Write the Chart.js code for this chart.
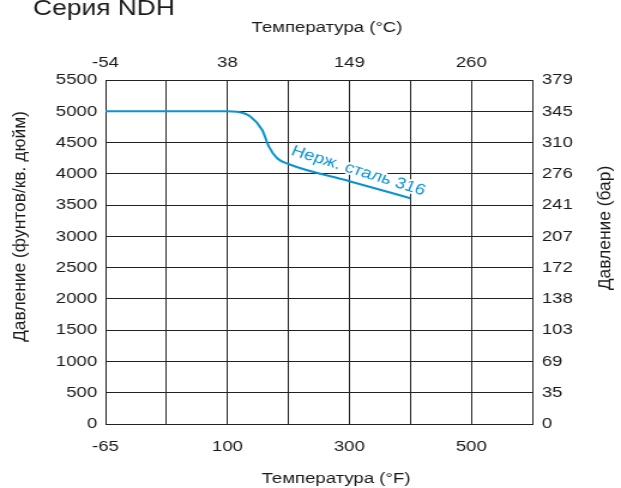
<!DOCTYPE html>
<html>
<head>
<meta charset="utf-8">
<script src="https://cdn.jsdelivr.net/npm/chart.js@4"></script>
<style>
  html, body { margin: 0; padding: 0; background: #fff; overflow: hidden; }
  #wrap { width: 518px; height: 488px; transform: scaleX(1.19884); transform-origin: 0 0; }
  #c { display: block; }
</style>
</head>
<body>
<div id="wrap"><canvas id="c" width="518" height="488"></canvas></div>
<script>
// ---- data ----
const chartTitle = 'Серия NDH';
const bottomTitle = 'Температура (°F)';
const topTitle = 'Температура (°C)';
const leftTitle = 'Давление (фунтов/кв. дюйм)';
const rightTitle = 'Давление (бар)';
const seriesLabel = 'Нерж. сталь 316';

// tick labels at each grid position (grid index 0..7)
const bottomLabels = ['-65', '', '100', '', '300', '', '500', ''];
const topLabels = ['-54', '', '38', '', '149', '', '260', ''];
const barLabels = ['0', '35', '69', '103', '138', '172', '207', '241', '276', '310', '345', '379'];

// curve: x in grid positions of the temperature axis, y in psi
const curveX = [0, 2.0, 2.16, 2.38, 2.57, 2.68, 2.815, 3.0, 4.0, 5.0];
const curvePsi = [5000, 5000, 4994, 4914, 4701, 4434, 4249, 4157, 3882, 3610];

// ---- rendering ----
const SX = 621 / 518;           // horizontal stretch of the reference picture
const FONT = 'Liberation Sans, Arial, sans-serif';
const tickFont = { family: FONT, size: 15.5 };
const ink = '#1a1a1a';
const gridInk = '#222';
const blue = '#0a93d3';

const textPlugin = {
  id: 'texts',
  afterDatasetsDraw(chart) {
    const ctx = chart.ctx;
    const xs = chart.scales.x, ys = chart.scales.y;
    const n = curveX.length;
    const x0 = xs.getPixelForValue(curveX[n - 3]), y0 = ys.getPixelForValue(curvePsi[n - 3]);
    const x1 = xs.getPixelForValue(curveX[n - 1]), y1 = ys.getPixelForValue(curvePsi[n - 1]);
    const ang = Math.atan2(y1 - y0, x1 - x0) + 0.03;
    ctx.save();
    ctx.translate(xs.getPixelForValue(3.03), ys.getPixelForValue(4310));
    ctx.rotate(ang);
    ctx.font = '15.5px ' + FONT;
    ctx.textAlign = 'left';
    ctx.textBaseline = 'alphabetic';
    ctx.lineWidth = 4;
    ctx.strokeStyle = '#fff';
    ctx.lineJoin = 'round';
    ctx.strokeText(seriesLabel, 0, 0);
    ctx.fillStyle = blue;
    ctx.fillText(seriesLabel, 0, 0);
    ctx.restore();
  },
  afterDraw(chart) {
    const ctx = chart.ctx;
    ctx.save();
    ctx.fillStyle = ink;
    ctx.textBaseline = 'alphabetic';
    ctx.font = '22px ' + FONT;
    ctx.textAlign = 'left';
    ctx.fillText(chartTitle, 33 / SX, 15);
    ctx.font = '15.5px ' + FONT;
    ctx.textAlign = 'center';
    ctx.fillText(topTitle, 327 / SX, 32);
    ctx.fillText(bottomTitle, 336 / SX, 483);
    ctx.textBaseline = 'middle';
    ctx.font = '17.4px ' + FONT;
    ctx.save();
    ctx.translate(20 / SX, 226.5);
    ctx.rotate(-Math.PI / 2);
    ctx.scale(1, 1 / SX);
    ctx.fillText(leftTitle, 0, 0);
    ctx.restore();
    ctx.save();
    ctx.translate(606 / SX, 228);
    ctx.rotate(-Math.PI / 2);
    ctx.scale(1, 1 / SX);
    ctx.fillText(rightTitle, 0, 0);
    ctx.restore();
    ctx.restore();
  }
};

new Chart(document.getElementById('c'), {
  type: 'line',
  data: {
    datasets: [{
      label: seriesLabel,
      data: curveX.map((x, i) => ({ x: x, y: curvePsi[i] })),
      borderColor: blue,
      borderWidth: 2,
      pointRadius: 0,
      cubicInterpolationMode: 'monotone',
      fill: false
    }]
  },
  options: {
    responsive: false,
    animation: false,
    devicePixelRatio: 1,
    layout: { padding: 0 },
    plugins: { legend: { display: false }, tooltip: { enabled: false }, title: { display: false } },
    scales: {
      x: {
        type: 'linear', position: 'bottom', min: 0, max: 7,
        ticks: { stepSize: 1, autoSkip: false, maxRotation: 0, padding: 13, font: tickFont, color: ink,
                 callback: v => bottomLabels[Math.round(v)] },
        grid: { color: gridInk, lineWidth: 1, drawTicks: false },
        border: { color: gridInk, width: 1 },
        afterFit: s => { s.height = 64; }
      },
      x2: {
        type: 'linear', position: 'top', min: 0, max: 7,
        ticks: { stepSize: 1, autoSkip: false, maxRotation: 0, padding: 8, font: tickFont, color: ink,
                 callback: v => topLabels[Math.round(v)] },
        grid: { drawOnChartArea: false, drawTicks: false },
        border: { color: gridInk, width: 1 },
        afterFit: s => { s.height = 80; }
      },
      y: {
        type: 'linear', position: 'left', min: 0, max: 5500,
        ticks: { stepSize: 500, autoSkip: false, padding: 7, font: tickFont, color: ink,
                 callback: v => String(v) },
        grid: { color: gridInk, lineWidth: 1, drawTicks: false },
        border: { color: gridInk, width: 1 },
        afterFit: s => { s.width = 88; }
      },
      y2: {
        type: 'linear', position: 'right', min: 0, max: 5500,
        ticks: { stepSize: 500, autoSkip: false, padding: 8, font: tickFont, color: ink,
                 callback: v => barLabels[Math.round(v / 500)] },
        grid: { drawOnChartArea: false, drawTicks: false },
        border: { color: gridInk, width: 1 },
        afterFit: s => { s.width = 74; }
      }
    }
  },
  plugins: [textPlugin]
});
</script>
</body>
</html>
